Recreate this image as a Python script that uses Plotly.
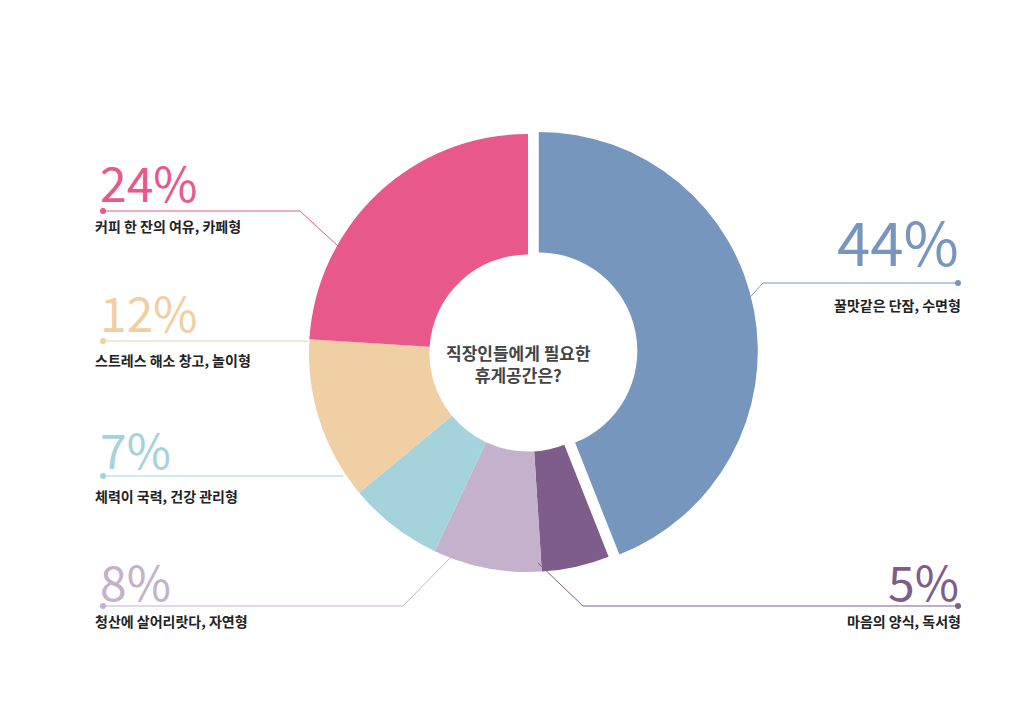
import plotly.graph_objects as go

# 직장인들에게 필요한 휴게공간
labels = ['꿀맛같은 단잠, 수면형', '마음의 양식, 독서형', '청산에 살어리랏다, 자연형',
          '체력이 국력, 건강 관리형', '스트레스 해소 창고, 놀이형', '커피 한 잔의 여유, 카페형']
values = [44, 5, 8, 7, 12, 24]
colors = ['#7696BE', '#7E5D8A', '#C4B2CC', '#A5D3DC', '#F0CFA5', '#E8588A']
pulls = [0.05, 0, 0, 0, 0, 0]

W, H = 1024, 723
FONT = 'Noto Sans CJK KR'


def px(x):
    return x / W


def py(y):
    return 1 - y / H


fig = go.Figure()
fig.add_trace(go.Pie(
    labels=labels, values=values, hole=0.45, sort=False, direction='clockwise',
    rotation=0, pull=pulls, textinfo='none', hoverinfo='label+percent',
    marker=dict(colors=colors, line=dict(width=0)),
    domain=dict(x=[px(290), px(750)], y=[py(580), py(110)]),
    showlegend=False,
))

# 라벨 위치 (픽셀): 퍼센트 y, 설명 y, 선 경로
callouts = [
    (5, 'left', 173, 218, [(95, 203), (292, 203), (330, 238)]),
    (4, 'left', 303, 352, [(95, 333), (300, 333)]),
    (3, 'left', 440, 488, [(95, 468), (335, 468)]),
    (2, 'left', 572, 613, [(95, 598), (395, 598), (447, 545)]),
    (0, 'right', 232, 297, [(950, 275), (755, 275), (735, 297)]),
    (1, 'right', 572, 613, [(950, 598), (575, 598), (530, 555)]),
]

shapes = []
annotations = []
for i, side, pct_y, sub_y, pts in callouts:
    c = colors[i]
    path = 'M ' + ' L '.join(f'{px(x)},{py(y)}' for x, y in pts)
    shapes.append(dict(type='path', xref='paper', yref='paper', path=path,
                       line=dict(color=c, width=1)))
    dx, dy = pts[0]
    shapes.append(dict(type='circle', xref='paper', yref='paper',
                       x0=px(dx - 3), x1=px(dx + 3), y0=py(dy + 3), y1=py(dy - 3),
                       fillcolor=c, line=dict(width=0)))
    xa = 'left' if side == 'left' else 'right'
    x0 = px(90) if side == 'left' else px(953)
    size = 60 if i == 0 else 48
    annotations.append(dict(x=x0, y=py(pct_y), xref='paper', yref='paper',
                            text=f'{values[i]}%', showarrow=False, xanchor=xa, yanchor='middle',
                            font=dict(family=FONT, size=size, color=c, weight=400)))
    annotations.append(dict(x=px(85) if side == 'left' else px(955), y=py(sub_y),
                            xref='paper', yref='paper', text=f'<b>{labels[i]}</b>',
                            showarrow=False, xanchor=xa, yanchor='middle',
                            font=dict(family=FONT, size=14, color='#222222')))

annotations.append(dict(x=px(510), y=py(355), xref='paper', yref='paper',
                        text='<b>직장인들에게 필요한<br>휴게공간은?</b>', showarrow=False,
                        font=dict(family=FONT, size=17, color='#444444')))

fig.update_layout(width=W, height=H, margin=dict(l=0, r=0, t=0, b=0),
                  paper_bgcolor='white', plot_bgcolor='white',
                  shapes=shapes, annotations=annotations)

fig.write_html('out.html')
